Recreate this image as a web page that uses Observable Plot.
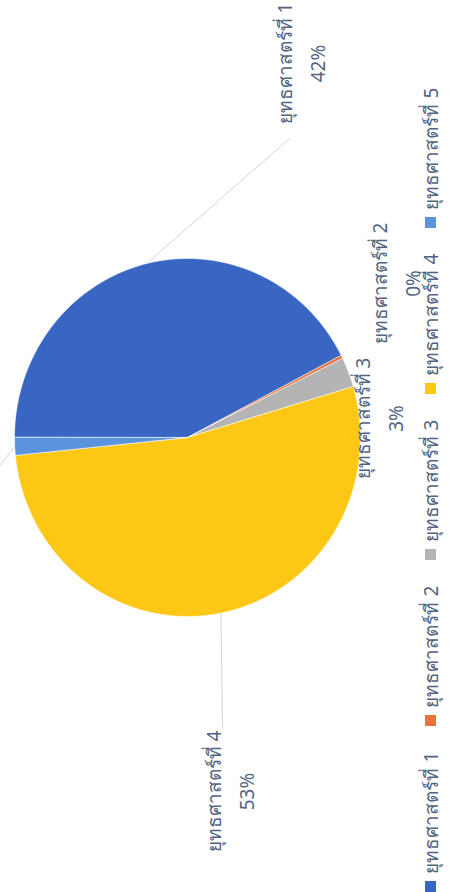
<!DOCTYPE html>
<html><head><meta charset="utf-8">
<script src="https://cdn.jsdelivr.net/npm/d3@7"></script>
<script src="https://cdn.jsdelivr.net/npm/@observablehq/plot@0.6"></script>
<style>body{margin:0;background:#fff;overflow:hidden}</style>
</head><body><div id="chart"></div>
<script>
// ---- data ----
const categories = ["ยุทธศาสตร์ที่ 1","ยุทธศาสตร์ที่ 2","ยุทธศาสตร์ที่ 3","ยุทธศาสตร์ที่ 4","ยุทธศาสตร์ที่ 5"];
const shares = [42.4, 0.3, 2.7, 53.0, 1.6];
const shareLabels = ["42%","0%","3%","53%","2%"];
const colors = ["#3a66c3","#e8743b","#b4b4b4","#fdc716","#5b93df"];

// ---- layout (pixels) ----
const W = 451, H = 892;
const cx = 187, cy = 437, rx = 173, ry = 179;
const labelAt = [[297,63],[392,283],[375,418],[226,791],null];
const leaderEnd = [[289,138],null,null,[222,727],[-12,480]];
const legendX = 430, legendY0 = 886, legendStep = -166;
const textColor = "#52647f";
const font = "'Noto Sans', 'DejaVu Sans', sans-serif";
const fs = 19;

// ---- pie geometry from data ----
const pie = d3.pie().sort(null).value(d => d.v).startAngle(-Math.PI/2).endAngle(3*Math.PI/2);
const rows = categories.map((c,i) => ({cat:c, v:shares[i], lab:shareLabels[i], i}));
const arcs = pie(rows);
const pt = (a, k=1) => [cx + rx*k*Math.sin(a), cy - ry*k*Math.cos(a)];
const poly = [];
arcs.forEach(s => {
  const n = Math.max(2, Math.ceil((s.endAngle - s.startAngle) / 0.005));
  poly.push({cat:s.data.cat, x:cx, y:cy});
  for (let j=0;j<=n;j++){
    const a = s.startAngle + (s.endAngle - s.startAngle)*j/n;
    const [x,y] = pt(a);
    poly.push({cat:s.data.cat, x, y});
  }
});
const leaders = arcs.filter(s => leaderEnd[s.data.i]).map(s => {
  const m = (s.startAngle + s.endAngle)/2;
  const [x1,y1] = pt(m);
  const [x2,y2] = leaderEnd[s.data.i];
  return {x1,y1,x2,y2};
});
const labels = rows.filter(r => labelAt[r.i]).map(r => ({x:labelAt[r.i][0], y:labelAt[r.i][1], t:r.cat + "\n" + r.lab}));
const legend = rows.map(r => ({cat:r.cat, x:legendX, y:legendY0 + legendStep*r.i}));

const chart = Plot.plot({
  width: W, height: H,
  margin: 0,
  x: {domain:[0,W], range:[0,W], axis:null},
  y: {domain:[0,H], range:[0,H], axis:null},
  color: {domain: categories, range: colors},
  style: {fontFamily: font, background: "#fff"},
  marks: [
    Plot.link(leaders, {x1:"x1", y1:"y1", x2:"x2", y2:"y2", stroke:"#d4d4d4", strokeWidth:1}),
    Plot.line(poly, {x:"x", y:"y", z:"cat", fill:"cat", stroke:"#ffffff", strokeWidth:0.6, curve:"linear-closed"}),
    Plot.text(labels, {x:"x", y:"y", text:"t", rotate:-90, fontSize:fs, lineHeight:1.74, fill:textColor, textAnchor:"middle", lineAnchor:"middle"}),
    Plot.dot(legend, {x:"x", y:"y", symbol:"square", r:6.2, fill:"cat", stroke:null}),
    Plot.text(legend, {x: d => d.x + 1, y: d => d.y - 13, text:"cat", rotate:-90, fontSize:fs, fill:textColor, textAnchor:"start", lineAnchor:"middle"})
  ]
});
document.getElementById("chart").appendChild(chart);
</script>
</body></html>
